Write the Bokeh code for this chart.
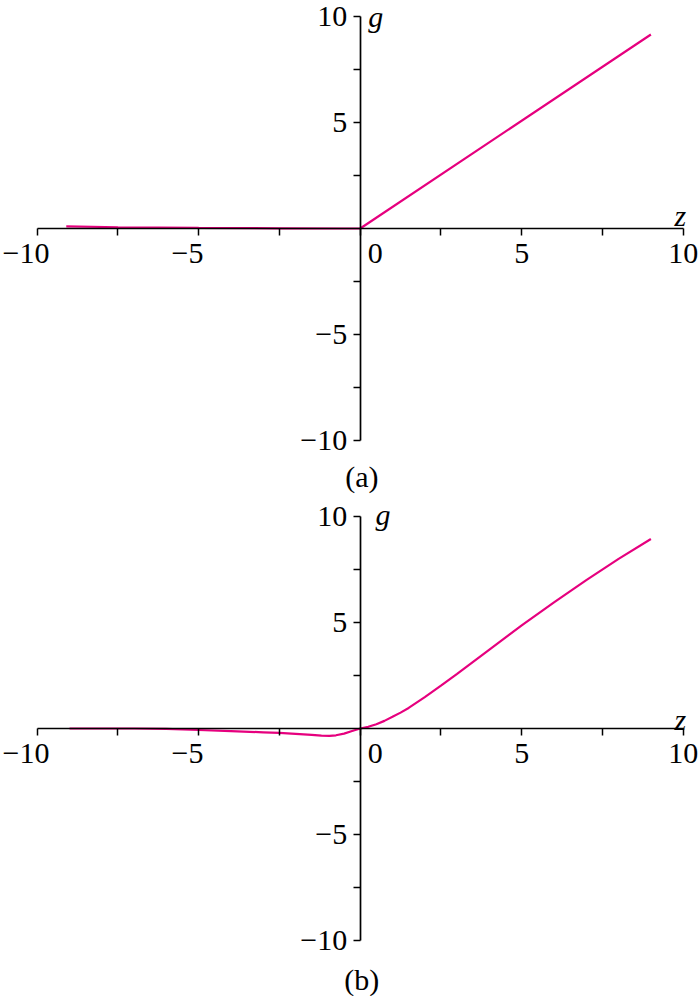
from bokeh.plotting import figure
from bokeh.models import FixedTicker, Label, Range1d
from bokeh.layouts import column
from bokeh.embed import file_html
from bokeh.resources import INLINE

# ---- data ----
z_a = [-9.1, -7.5, -5.0, -2.5, -0.5, 0.0, 9.0]
g_a = [0.10, 0.06, 0.03, 0.01, 0.0, 0.0, 9.15]

z_b = [-9.0, -7.0, -6.0, -5.0, -4.0, -3.0, -2.5, -2.0, -1.5, -1.2, -0.95, -0.75,
       -0.5, -0.25, 0.0, 0.25, 0.5, 0.75, 1.0, 1.25, 1.5, 2.0, 2.5, 3.0, 4.0,
       5.0, 6.0, 7.0, 8.0, 9.0]
g_b = [0.0, 0.0, -0.02, -0.07, -0.12, -0.18, -0.21, -0.25, -0.30, -0.34, -0.35,
       -0.32, -0.24, -0.12, 0.0, 0.08, 0.20, 0.36, 0.55, 0.75, 0.97, 1.48, 2.02,
       2.58, 3.72, 4.86, 5.95, 7.0, 8.0, 8.94]

x_major = [-10, -5, 0, 5, 10]
x_minor = [-7.5, -2.5, 2.5, 7.5]
y_major = [-10, -5, 5, 10]
y_minor = [-7.5, -2.5, 2.5, 7.5]
NB = "\u00a0"
x_tick_labels = {-10: "\u221210" + NB * 3, -5: "\u22125" + NB * 3, 0: NB * 4 + "0", 5: "5", 10: "10"}
y_tick_labels = {-10: "\u221210", -5: "\u22125", 5: "5", 10: "10"}
panel_tags = ["(a)", "(b)"]
x_name = "z"
y_name = "g"

FONT = "Liberation Serif"
FS = "30px"
CURVE = "#e6007e"
W = 700
KX = 32.3
X0 = -10 - 36.7 / KX
X1 = X0 + W / KX
KY = 21.2


def make_panel(z, g, height, y0, y1, tag, tag_y, gx, gy, zx, zy):
    p = figure(width=W, height=height, x_range=Range1d(X0, X1), y_range=Range1d(y0, y1),
               output_backend="svg", toolbar_location=None, min_border=0,
               min_border_left=0, min_border_right=0, min_border_top=0, min_border_bottom=0)
    p.title.visible = False
    p.outline_line_color = None
    p.grid.visible = False
    for ax in (p.xaxis[0], p.yaxis[0]):
        ax.fixed_location = 0
        ax.bounds = (-10, 10)
        ax.axis_line_color = "black"
        ax.axis_line_width = 1.7
        ax.major_tick_line_color = "black"
        ax.minor_tick_line_color = "black"
        ax.major_tick_line_width = 1.5
        ax.minor_tick_line_width = 1.5
        ax.major_tick_in = 0
        ax.major_tick_out = 7
        ax.minor_tick_in = 0
        ax.minor_tick_out = 7
        ax.major_label_text_font = FONT
        ax.major_label_text_font_size = FS
        ax.major_label_text_color = "black"
    p.xaxis[0].ticker = FixedTicker(ticks=x_major, minor_ticks=x_minor)
    p.xaxis[0].major_label_overrides = x_tick_labels
    p.xaxis[0].major_label_standoff = 0
    p.yaxis[0].ticker = FixedTicker(ticks=y_major, minor_ticks=y_minor)
    p.yaxis[0].major_label_overrides = y_tick_labels
    p.yaxis[0].major_label_standoff = 6

    p.line(z, g, line_color=CURVE, line_width=2.2)

    p.add_layout(Label(x=gx, y=gy, text=y_name, text_font=FONT, text_font_size=FS,
                       text_font_style="italic", text_color="black",
                       text_align="left", text_baseline="middle"))
    p.add_layout(Label(x=zx, y=zy, text=x_name, text_font=FONT, text_font_size=FS,
                       text_font_style="italic", text_color="black",
                       text_align="left", text_baseline="alphabetic"))
    p.add_layout(Label(x=0.05, y=tag_y, text=tag, text_font=FONT, text_font_size=FS,
                       text_color="black", text_align="center", text_baseline="middle"))
    return p


HA, HB = 497, 499
ya1 = 10 + 16 / KY
ya0 = ya1 - HA / KY
yb1 = 10 + 19 / KY
yb0 = yb1 - HB / KY

pa = make_panel(z_a, g_a, HA, ya0, ya1, panel_tags[0], ya1 - 476 / KY, 0.25, 10.0, 9.73, 0.6)
pb = make_panel(z_b, g_b, HB, yb0, yb1, panel_tags[1], yb1 - 482 / KY, 0.47, 10.09, 9.73, 0.42)

layout = column(pa, pb, spacing=0)
open("out.html", "w").write(file_html(layout, INLINE))
